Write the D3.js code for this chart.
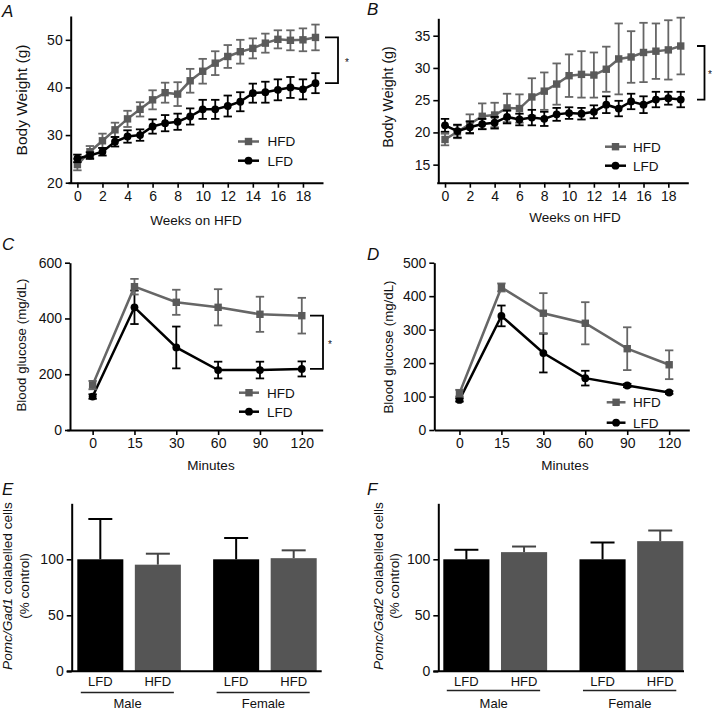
<!DOCTYPE html>
<html><head><meta charset="utf-8">
<script src="https://cdn.jsdelivr.net/npm/d3@7"></script>
<style>
body{margin:0;background:#fff}
svg{display:block}
text{font-family:"Liberation Sans",Arial,Helvetica,sans-serif;fill:#111}
</style></head><body>
<svg id="fig" width="713" height="711"></svg>
<script>
// ---------------- DATA ----------------
const weeks = [0,1,2,3,4,5,6,7,8,9,10,11,12,13,14,15,16,17,18,19];
const weekTicks = [0,2,4,6,8,10,12,14,16,18];

const maleHFD    = [23.8,26.5,28.8,31.1,33.4,35.4,37.4,38.9,38.6,41.4,43.4,45.1,46.5,47.5,48.2,49.3,50.1,49.9,50.0,50.5];
const maleHFDerr = [1.2,1.2,1.5,1.5,1.7,1.5,2.0,2.1,2.5,2.5,2.6,2.5,2.4,2.5,2.1,2.0,1.9,2.1,2.4,2.7];
const maleLFD    = [25.1,25.7,26.5,28.6,29.7,30.0,31.8,32.5,32.8,33.9,35.4,35.4,36.1,37.0,38.8,39.0,39.5,40.0,39.6,40.9];
const maleLFDerr = [0.8,0.7,0.8,1.0,1.3,1.2,1.5,1.7,1.7,1.7,2.0,2.0,2.2,2.0,2.0,2.2,2.2,2.2,2.1,2.1];

const femaleHFD    = [18.9,20.1,21.3,22.5,22.7,23.8,23.7,25.5,26.4,27.5,28.8,29.0,28.9,29.8,31.4,31.7,32.4,32.6,32.8,33.4];
const femaleHFDerr = [0.9,1.0,1.5,2.0,1.9,2.2,2.2,2.9,2.9,3.2,3.3,3.6,3.5,3.5,5.5,4.0,4.6,4.3,4.6,4.4];
const femaleLFD    = [21.1,20.2,20.8,21.3,21.5,22.4,22.0,22.3,22.1,22.8,23.0,22.9,23.2,24.3,23.7,24.8,24.3,25.1,25.3,25.1];
const femaleLFDerr = [1.0,1.0,0.9,0.8,0.9,1.0,0.9,1.2,1.1,1.0,0.9,0.9,1.0,1.3,1.2,1.2,1.3,1.2,1.0,1.2];

const gttMinutes = ["0","15","30","60","90","120"];
const gttMaleHFD    = [161,514,458,440,415,410];
const gttMaleHFDerr = [15,28,45,65,63,64];
const gttMaleLFD    = [120,440,296,215,215,219];
const gttMaleLFDerr = [8,60,75,30,30,27];
const gttFemaleHFD    = [110,426,349,319,243,195];
const gttFemaleHFDerr = [10,12,60,63,64,43];
const gttFemaleLFD    = [90,341,230,155,133,112];
const gttFemaleLFDerr = [5,31,58,22,5,4];

const sexes = ["Male","Female"];
const diets = ["LFD","HFD"];
const gad1Values = [[100,95.2],[100,101]];
const gad1Err    = [[36,9.8],[19,7]];
const gad2Values = [[100,106.4],[100,116.2]];
const gad2Err    = [[8.5,5],[15,9.5]];

const seriesNames = ["HFD","LFD"];

// ---------------- STYLE ----------------
const BLACK = "#000";
const GREY_LINE = "#666";
const GREY_MARK = "#5a5a5a";
const GREY_BAR = "#555";
const FS = 13;
const TICK_FS = 14;

const svg = d3.select("#fig");

function styleAxis(g){
  g.select(".domain").attr("stroke",BLACK).attr("stroke-width",2);
  g.selectAll(".tick line").attr("stroke",BLACK).attr("stroke-width",1.6);
  g.selectAll(".tick text").attr("font-size",TICK_FS).attr("fill","#111")
   .attr("font-family",'"Liberation Sans",Arial,sans-serif');
}

function letter(t,x,y){
  svg.append("text").attr("x",x).attr("y",y).attr("font-size",17)
    .attr("font-style","italic").text(t);
}

function rotLabel(lines,cy,fs){
  lines.forEach(l=>{
    const t = svg.append("text")
      .attr("transform",`translate(${l.x},${cy}) rotate(-90)`)
      .attr("text-anchor","middle").attr("dy","0.36em").attr("font-size",fs||FS);
    l.parts.forEach(p=>t.append("tspan").attr("font-style",p.it?"italic":"normal").text(p.t));
  });
}

function marker(g, type, cx, cy, color){
  if(type==="square"){
    g.append("rect").attr("x",cx-3.7).attr("y",cy-3.7).attr("width",7.4).attr("height",7.4).attr("fill",color);
  } else {
    g.append("circle").attr("cx",cx).attr("cy",cy).attr("r",3.9).attr("fill",color);
  }
}

function drawLinePanel(cfg){
  const {x,y,xs,series,xAxisY,yAxisX,yTicks,xTicks,xFmt} = cfg;
  const gx = svg.append("g").attr("transform",`translate(0,${xAxisY})`)
    .call(d3.axisBottom(x).tickValues(xTicks).tickFormat(xFmt).tickSize(5).tickPadding(3).tickSizeOuter(0));
  styleAxis(gx);
  const gy = svg.append("g").attr("transform",`translate(${yAxisX},0)`)
    .call(d3.axisLeft(y).tickValues(yTicks).tickSize(5).tickPadding(3).tickSizeOuter(0));
  styleAxis(gy);
  series.forEach(s=>{
    const g = svg.append("g");
    const line = d3.line().x((d,i)=>x(xs[i])).y(d=>y(d));
    g.append("path").datum(s.vals).attr("d",line).attr("fill","none")
      .attr("stroke",s.line).attr("stroke-width",2.5);
    s.vals.forEach((v,i)=>{
      const cx = x(xs[i]);
      const lo = y(v - s.err[i]), hi = y(v + s.err[i]);
      g.append("line").attr("x1",cx).attr("x2",cx).attr("y1",lo).attr("y2",hi)
        .attr("stroke",s.line).attr("stroke-width",1.8);
      [lo,hi].forEach(yy=>g.append("line").attr("x1",cx-4.2).attr("x2",cx+4.2).attr("y1",yy).attr("y2",yy)
        .attr("stroke",s.line).attr("stroke-width",1.8));
      marker(g,s.marker,cx,y(v),s.mark);
    });
  });
  const L = cfg.legend;
  series.slice().sort((a,b)=>seriesNames.indexOf(a.name)-seriesNames.indexOf(b.name)).forEach((s,i)=>{
    const ly = L.y + i*L.dy;
    svg.append("line").attr("x1",L.x0).attr("x2",L.x1).attr("y1",ly).attr("y2",ly)
      .attr("stroke",s.line).attr("stroke-width",2.5);
    marker(svg,s.marker,(L.x0+L.x1)/2,ly,s.mark);
    svg.append("text").attr("x",L.tx).attr("y",ly).attr("dy","0.36em").attr("font-size",13.5).text(s.name);
  });
  if(cfg.bracket){
    const b = cfg.bracket;
    const hs = series.find(s=>s.name==="HFD"), ls = series.find(s=>s.name==="LFD");
    const y1 = y(hs.vals[hs.vals.length-1]), y2 = y(ls.vals[ls.vals.length-1]);
    svg.append("path").attr("d",`M${b.x0},${y1}H${b.x1}V${y2}H${b.x0}`)
      .attr("fill","none").attr("stroke",BLACK).attr("stroke-width",1.8);
    svg.append("text").attr("x",b.ax).attr("y",(y1+y2)/2).attr("dy","0.55em")
      .attr("text-anchor","middle").attr("font-size",10).text("*");
  }
  svg.append("text").attr("x",cfg.xTitle.x).attr("y",cfg.xTitle.y).attr("dy","0.36em")
    .attr("text-anchor","middle").attr("font-size",13.5).text(cfg.xTitle.t);
  rotLabel([{x:cfg.yTitle.x,parts:[{t:cfg.yTitle.t}]}],cfg.yTitle.y,cfg.yTitle.fs);
}

// ---------- Panel A ----------
letter("A",2,17);
drawLinePanel({
  x: d3.scaleLinear().domain([-0.75,19.6]).range([68,323]),
  y: d3.scaleLinear().domain([20,55]).range([182.7,16]),
  xs: weeks, xTicks: weekTicks, xFmt: d3.format("d"),
  yTicks:[20,30,40,50], xAxisY:182.7, yAxisX:70.7,
  series:[
    {name:"HFD",vals:maleHFD,err:maleHFDerr,line:GREY_LINE,mark:GREY_MARK,marker:"square"},
    {name:"LFD",vals:maleLFD,err:maleLFDerr,line:BLACK,mark:BLACK,marker:"circle"}
  ],
  legend:{x0:238,x1:259,y:141.5,dy:19.2,tx:267.5},
  bracket:{x0:325,x1:338,ax:347},
  xTitle:{t:"Weeks on HFD",x:196,y:220},
  yTitle:{t:"Body Weight (g)",x:21.5,y:100,fs:15.5}
});

// ---------- Panel B ----------
letter("B",367,15);
drawLinePanel({
  x: d3.scaleLinear().domain([-0.67,19.61]).range([436.7,688.3]),
  y: d3.scaleLinear().domain([12.2,37.7]).range([182.7,18.3]),
  xs: weeks, xTicks: weekTicks, xFmt: d3.format("d"),
  yTicks:[15,20,25,30,35], xAxisY:182.7, yAxisX:438.3,
  series:[
    {name:"HFD",vals:femaleHFD,err:femaleHFDerr,line:GREY_LINE,mark:GREY_MARK,marker:"square"},
    {name:"LFD",vals:femaleLFD,err:femaleLFDerr,line:BLACK,mark:BLACK,marker:"circle"}
  ],
  legend:{x0:605,x1:626,y:146.7,dy:19,tx:633},
  bracket:{x0:697,x1:704.5,ax:710},
  xTitle:{t:"Weeks on HFD",x:575,y:217},
  yTitle:{t:"Body Weight (g)",x:388,y:97,fs:14.2}
});

// ---------- Panel C ----------
letter("C",2,250);
const gttIdx = [0,1,2,3,4,5];
drawLinePanel({
  x: d3.scaleLinear().domain([-0.62,5.5]).range([66.7,322.7]),
  y: d3.scaleLinear().domain([0,600]).range([430,262.7]),
  xs: gttIdx, xTicks: gttIdx, xFmt: i=>gttMinutes[i],
  yTicks:[0,200,400,600], xAxisY:430, yAxisX:70,
  series:[
    {name:"LFD",vals:gttMaleLFD,err:gttMaleLFDerr,line:BLACK,mark:BLACK,marker:"circle"},
    {name:"HFD",vals:gttMaleHFD,err:gttMaleHFDerr,line:GREY_LINE,mark:GREY_MARK,marker:"square"}
  ],
  legend:{x0:239,x1:259,y:392.7,dy:19,tx:267},
  bracket:{x0:310,x1:323,ax:330},
  xTitle:{t:"Minutes",x:211,y:465},
  yTitle:{t:"Blood glucose (mg/dL)",x:21.5,y:345,fs:13.3}
});

// ---------- Panel D ----------
letter("D",367,260);
drawLinePanel({
  x: d3.scaleLinear().domain([-0.6,5.48]).range([434.3,689.3]),
  y: d3.scaleLinear().domain([0,500]).range([430,262.7]),
  xs: gttIdx, xTicks: gttIdx, xFmt: i=>gttMinutes[i],
  yTicks:[0,100,200,300,400,500], xAxisY:430, yAxisX:434.3,
  series:[
    {name:"LFD",vals:gttFemaleLFD,err:gttFemaleLFDerr,line:BLACK,mark:BLACK,marker:"circle"},
    {name:"HFD",vals:gttFemaleHFD,err:gttFemaleHFDerr,line:GREY_LINE,mark:GREY_MARK,marker:"square"}
  ],
  legend:{x0:606.7,x1:625.5,y:402.3,dy:20.4,tx:633},
  bracket:null,
  xTitle:{t:"Minutes",x:565,y:465},
  yTitle:{t:"Blood glucose (mg/dL)",x:388,y:347,fs:13.3}
});

// ---------- Bar panels ----------
function drawBarPanel(cfg){
  const y = d3.scaleLinear().domain([0,150]).range([671.3,503.3]);
  const gOuter = d3.scaleBand().domain(sexes).range(cfg.range).paddingInner(0.2375).paddingOuter(0);
  const gInner = d3.scaleBand().domain(diets).range([0,gOuter.bandwidth()]).paddingInner(0.2).paddingOuter(0);
  const colors = {LFD:BLACK, HFD:GREY_BAR};
  const errColors = {LFD:BLACK, HFD:"#444"};
  sexes.forEach((s,si)=>{
    diets.forEach((d,di)=>{
      const x0 = gOuter(s)+gInner(d), w = gInner.bandwidth();
      const v = cfg.values[si][di], e = cfg.err[si][di];
      const cx = x0 + w/2;
      svg.append("line").attr("x1",cx).attr("x2",cx).attr("y1",y(v)).attr("y2",y(v+e))
        .attr("stroke",errColors[d]).attr("stroke-width",2);
      svg.append("line").attr("x1",cx-12).attr("x2",cx+12).attr("y1",y(v+e)).attr("y2",y(v+e))
        .attr("stroke",errColors[d]).attr("stroke-width",2);
      svg.append("rect").attr("x",x0).attr("y",y(v)).attr("width",w).attr("height",y(0)-y(v))
        .attr("fill",colors[d]);
      svg.append("text").attr("x",cx).attr("y",681.7).attr("dy","0.36em")
        .attr("text-anchor","middle").attr("font-size",13).text(d);
    });
    const gx0 = gOuter(s), gx1 = gOuter(s)+gOuter.bandwidth();
    svg.append("line").attr("x1",gx0+3.5).attr("x2",gx1-7).attr("y1",cfg.ulY).attr("y2",cfg.ulY)
      .attr("stroke","#222").attr("stroke-width",1.3);
    svg.append("text").attr("x",(gx0+gx1)/2-1.5).attr("y",703.5).attr("dy","0.36em")
      .attr("text-anchor","middle").attr("font-size",13).text(s);
  });
  const gy = svg.append("g").attr("transform",`translate(${cfg.yAxisX},0)`)
    .call(d3.axisLeft(y).tickValues([0,50,100]).tickSize(5).tickPadding(3).tickSizeOuter(0));
  styleAxis(gy);
  svg.append("line").attr("x1",cfg.axisX0).attr("x2",cfg.axisX1).attr("y1",y(0)).attr("y2",y(0))
    .attr("stroke",BLACK).attr("stroke-width",2);
  rotLabel([
    {x:cfg.lab1X,parts:[{t:cfg.gene,it:true},{t:" colabelled cells"}]},
    {x:cfg.lab2X,parts:[{t:"(% control)"}]}
  ],586,13.6);
}

letter("E",2,495);
drawBarPanel({values:gad1Values,err:gad1Err,range:[77.3,316.7],yAxisX:71.7,axisX0:66.7,axisX1:321.7,
  gene:"Pomc/Gad1",lab1X:7.5,lab2X:24,ulY:692.5});
letter("F",367,495);
drawBarPanel({values:gad2Values,err:gad2Err,range:[443.3,683.3],yAxisX:438.3,axisX0:433.3,axisX1:684,
  gene:"Pomc/Gad2",lab1X:378,lab2X:394.5,ulY:690.5});
</script>
</body></html>
